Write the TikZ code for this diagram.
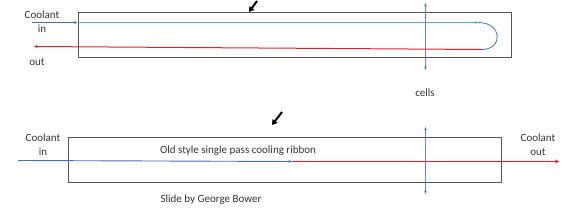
\documentclass[tikz,border=0pt]{standalone}
\usepackage{fontspec}
\setmainfont{Carlito}
\usetikzlibrary{arrows.meta, positioning}

\definecolor{inblue}{RGB}{72,110,190}
\definecolor{pipeblue}{RGB}{80,176,210}
\definecolor{outred}{RGB}{228,30,40}
\definecolor{boxgray}{RGB}{85,85,85}

\tikzset{
  ribbon/.style={draw=boxgray, line width=1pt, minimum width=433pt, minimum height=45pt, inner sep=0pt},
  lbl/.style={font=\fontsize{11}{14}\selectfont, text=black!80, align=center, inner sep=0pt},
  tip/.style={-{Stealth[length=3.5pt,width=3pt]}},
  cellarrow/.style={inblue!85, line width=0.8pt, {Stealth[length=3.5pt,width=3pt]}-{Stealth[length=3.5pt,width=3pt]}},
  pointer/.style={line width=2pt, -{Triangle[length=5pt,width=6pt]}}
}

\begin{document}
\begin{tikzpicture}[x=1pt, y=1pt]
  \useasboundingbox (0,0) rectangle (567,216);

  % closed loop ribbon (top)
  \node[ribbon] (topbox) at (294.5,180.5) {};
  \node[lbl] (topin) at (42,194) {Coolant\\in};
  \node[lbl] (topout) at (37,154) {out};
  \coordinate (tinS) at (32,193.5);
  \coordinate (tinE) at (478,193.5);
  \coordinate (toutS) at (482,166.5);
  \coordinate (toutE) at (34,169.5);
  \draw[inblue, line width=0.8pt, tip] (tinS) -- (topbox.west |- tinS);
  \draw[pipeblue, line width=0.9pt, tip] (topbox.west |- tinS) -- (tinE);
  \draw[inblue, line width=0.8pt] (tinE) .. controls (503,193.5) and (503,166.5) .. (toutS);
  \draw[outred, line width=1pt, tip] (toutS) -- (toutE);
  % cells
  \coordinate (tcellA) at (425.5,213);
  \coordinate (tcellB) at (425.5,146);
  \draw[cellarrow] (tcellA) -- (tcellB);
  \node[lbl] (cells) at (425,123) {cells};
  \coordinate (tptrA) at (257,215);
  \coordinate (tptrB) at (249,204);
  \draw[pointer] (tptrA) -- (tptrB);

  % single pass ribbon (bottom)
  \node[ribbon] (botbox) at (284.5,55.5) {};
  \node[lbl] (botin) at (43,71) {Coolant\\in};
  \node[lbl] (botout) at (538,71) {Coolant\\out};
  \node[lbl] (title) at (238,65) {Old style single pass cooling ribbon};
  \node[lbl] (credit) at (211,16) {Slide by George Bower};
  \coordinate (binS) at (18,55.5);
  \coordinate (bmid) at (292,54.5);
  \coordinate (boutE) at (559,54.5);
  \draw[inblue, line width=0.9pt, tip] (binS) -- (bmid);
  \draw[outred, line width=1.3pt, -{Stealth[length=4pt,width=4pt]}] (bmid) -- (boutE);
  \coordinate (bcellA) at (425.5,89);
  \coordinate (bcellB) at (425.5,22);
  \draw[cellarrow] (bcellA) -- (bcellB);
  \coordinate (bptrA) at (282,104);
  \coordinate (bptrB) at (272,91);
  \draw[pointer] (bptrA) -- (bptrB);
\end{tikzpicture}
\end{document}
